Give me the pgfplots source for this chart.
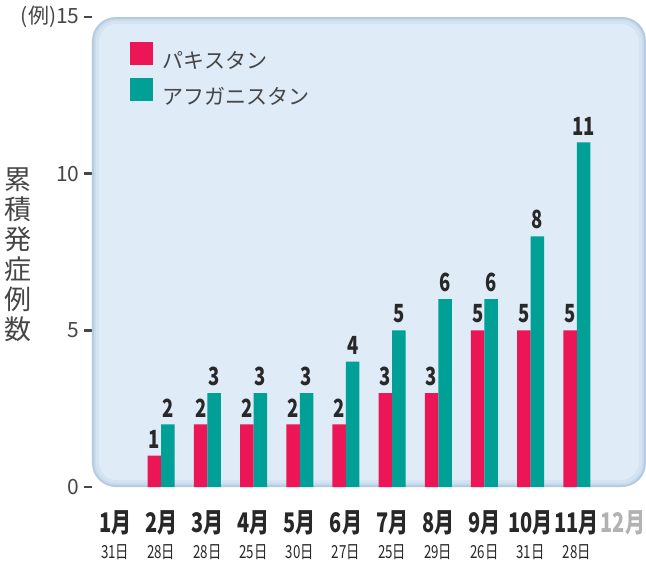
\documentclass[border=0pt]{standalone}
\usepackage{fontspec}
\setmainfont{Noto Sans CJK JP}
\newfontfamily\mfont{Noto Sans CJK JP}[FakeStretch=0.74]
\usepackage{pgfplots}
\pgfplotsset{compat=1.18}
\definecolor{pk}{RGB}{236,21,85}
\definecolor{tl}{RGB}{0,160,150}
\definecolor{bgc}{RGB}{223,235,247}
\definecolor{bge}{RGB}{178,203,227}
\definecolor{txt}{RGB}{40,40,40}
\definecolor{tk}{RGB}{70,70,70}
\newcommand{\ml}[2]{{\mfont\fontsize{27}{27}\selectfont\bfseries #1月}\\[9pt]{\mfont\fontsize{18}{18}\selectfont #2日}}
\begin{document}
\begin{tikzpicture}
\useasboundingbox (-92pt,-79pt) rectangle (554pt,487pt);
\begin{axis}[
  at={(0,0)}, anchor=south west,
  scale only axis, width=554pt, height=470pt,
  xmin=0.5, xmax=12.5, ymin=0, ymax=15,
  axis line style={draw=none},
  clip=false,
  ytick={0,5,10,15}, yticklabels={0,5,10,{(例)15}},
  tick align=outside, major tick length=8pt,
  ytick style={draw=tk, line width=2.6pt},
  xtick style={draw=none},
  yticklabel style={font=\fontsize{21}{21}\selectfont, text=tk, xshift=-1pt},
  xtick={1,...,12},
  xticklabels={{\ml{1}{31}},{\ml{2}{28}},{\ml{3}{28}},{\ml{4}{25}},{\ml{5}{30}},{\ml{6}{27}},{\ml{7}{25}},{\ml{8}{29}},{\ml{9}{26}},{\ml{10}{31}},{\ml{11}{28}},{{\mfont\fontsize{27}{27}\selectfont\bfseries\color{black!30}12月}\\[9pt]{\fontsize{18}{18}\selectfont\phantom{0}}}},
  xticklabel style={align=center, text=txt, anchor=north, yshift=-12pt},
  ybar=0pt, bar width=13.5pt,
  legend style={at={(rel axis cs:0.068,0.948)}, anchor=north west, draw=none, fill=none,
    inner sep=0pt, row sep=6pt, font=\fontsize{21}{21}\selectfont, text=tk},
  legend cell align=left,
  legend image code/.code={\fill[#1] (0pt,-4pt) rectangle (23pt,19pt); \path[draw=none,fill=none] (0pt,0pt) rectangle (31pt,1pt);},
  nodes near coords={\pgfmathprintnumber[assume math mode=true]{\pgfplotspointmeta}},
  every node near coord/.append style={font=\mfont\fontsize{25}{25}\selectfont\bfseries, text=txt, anchor=south, inner sep=0pt, yshift=7pt},
]
\fill[bge, rounded corners=24pt] (rel axis cs:0,0) rectangle (rel axis cs:1,1);
\fill[bge!50!bgc, rounded corners=22pt] ([xshift=2pt,yshift=2pt]rel axis cs:0,0) rectangle ([xshift=-2pt,yshift=-2pt]rel axis cs:1,1);
\fill[bge!25!bgc, rounded corners=20pt] ([xshift=4pt,yshift=4pt]rel axis cs:0,0) rectangle ([xshift=-4pt,yshift=-4pt]rel axis cs:1,1);
\fill[bgc, rounded corners=18pt] ([xshift=7pt,yshift=7pt]rel axis cs:0,0) rectangle ([xshift=-7pt,yshift=-7pt]rel axis cs:1,1);
\addplot[fill=pk, draw=none] coordinates {(2,1)(3,2)(4,2)(5,2)(6,2)(7,3)(8,3)(9,5)(10,5)(11,5)};
\addlegendentry{パキスタン}
\addplot[fill=tl, draw=none] coordinates {(2,2)(3,3)(4,3)(5,3)(6,4)(7,5)(8,6)(9,6)(10,8)(11,11)};
\addlegendentry{アフガニスタン}
\end{axis}
\node[align=center, font=\fontsize{27}{30}\selectfont, text=tk] at (-74pt,232pt) {累\\積\\発\\症\\例\\数};
\end{tikzpicture}
\end{document}
